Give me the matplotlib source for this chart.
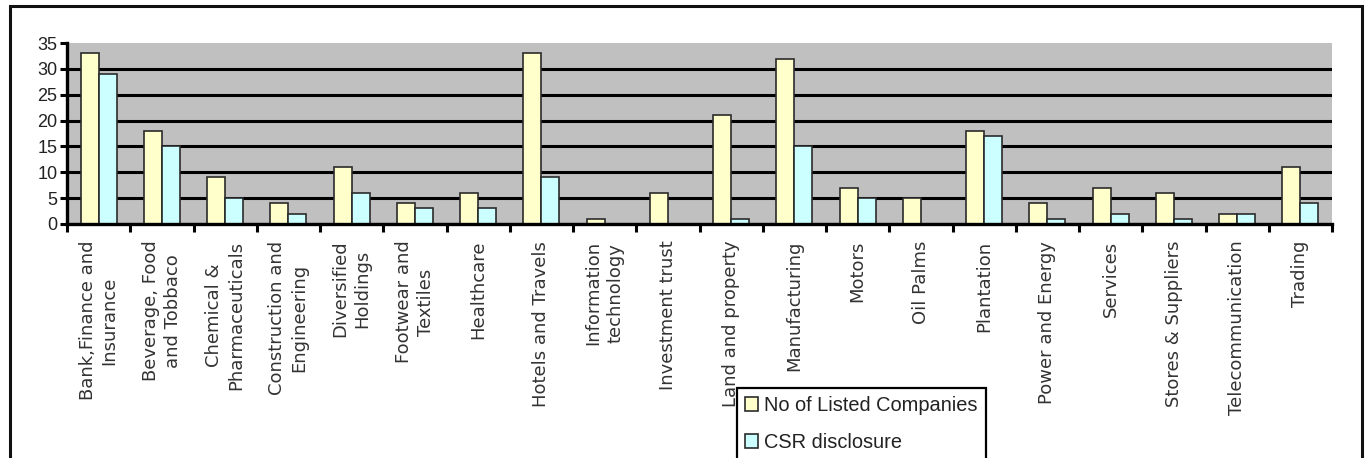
#!/usr/bin/env python3
"""
plot.py  - listed companies vs CSR disclosure by sector (Excel-style bar chart)
Output: out.png (1366 x 458)
"""

import numpy as np
import matplotlib
matplotlib.use("Agg")
import matplotlib.pyplot as plt
from matplotlib.patches import Rectangle

# ---------------------------------------------------------
# data
# ---------------------------------------------------------
SECTORS = [
    "Bank,Finance and\nInsurance", "Beverage, Food\nand Tobbaco",
    "Chemical &\nPharmaceuticals", "Construction and\nEngineering",
    "Diversified\nHoldings", "Footwear and\nTextiles", "Healthcare",
    "Hotels and Travels", "Information\ntechnology", "Investment trust",
    "Land and property", "Manufacturing", "Motors", "Oil Palms",
    "Plantation", "Power and Energy", "Services", "Stores & Suppliers",
    "Telecommunication", "Trading",
]
LISTED = [33, 18, 9, 4, 11, 4, 6, 33, 1, 6, 21, 32, 7, 5, 18, 4, 7, 6, 2, 11]
CSR    = [29, 15, 5, 2, 6, 3, 3, 9, 0, 0, 1, 15, 5, 0, 17, 1, 2, 1, 2, 4]
SERIES = ["No of Listed Companies", "CSR disclosure"]
Y_TICKS = [0, 5, 10, 15, 20, 25, 30, 35]

# ---------------------------------------------------------
# figure / axes geometry (pixels of the 1366x458 canvas)
# ---------------------------------------------------------
W, H = 1366, 458
fig = plt.figure(figsize=(W / 100, H / 100), dpi=100)
fig.patch.set_facecolor("white")

ax_l, ax_r, ax_t, ax_b = 67, 1332, 43, 224
ax = fig.add_axes([ax_l / W, 1 - ax_b / H, (ax_r - ax_l) / W, (ax_b - ax_t) / H])
ax.set_facecolor("#C0C0C0")
ax.set_axisbelow(True)

# outer chart border (bottom edge falls outside the canvas)
fig.add_artist(Rectangle((10 / W, -0.2), (1362 - 10) / W, 1.2 - 6 / H,
                         transform=fig.transFigure, fill=False,
                         edgecolor="#111111", linewidth=2.2))

# ---------------------------------------------------------
# bars
# ---------------------------------------------------------
x  = np.arange(len(SECTORS)) + 0.5
bw = 0.286
b1 = ax.bar(x - bw / 2, LISTED, width=bw, color="#FFFFCC",
            edgecolor="#2b2b2b", linewidth=1.2, label=SERIES[0], zorder=3)
b2 = ax.bar(x + bw / 2, CSR, width=bw, color="#CCFFFF",
            edgecolor="#2b2b2b", linewidth=1.2, label=SERIES[1], zorder=3)

# ---------------------------------------------------------
# axes cosmetics
# ---------------------------------------------------------
ax.set_xlim(0, len(SECTORS))
ax.set_ylim(0, 35)
ax.set_yticks(Y_TICKS)
ax.set_yticklabels([str(v) for v in Y_TICKS], fontsize=13,
                   family="Liberation Sans", color="#222222")
ax.yaxis.grid(True, color="black", linewidth=2.2)
ax.xaxis.grid(False)
# no gridline at the top (35)
ax.get_ygridlines()[-1].set_visible(False)

ax.set_xticks(np.arange(len(SECTORS) + 1))
ax.set_xticklabels([])
ax.set_xticks(x, minor=True)
ax.set_xticklabels(SECTORS, minor=True, rotation=90, ha="center", va="top",
                   multialignment="center", fontsize=13, linespacing=1.3,
                   family="DejaVu Sans", color="#333333")
ax.tick_params(axis="x", which="major", direction="out", length=6,
               width=2.2, color="black")
ax.tick_params(axis="x", which="minor", length=0, pad=12)
ax.tick_params(axis="y", direction="out", length=5, width=2.2, pad=2)

for s in ("top", "right"):
    ax.spines[s].set_visible(False)
for s in ("left", "bottom"):
    ax.spines[s].set_linewidth(2.4)
    ax.spines[s].set_color("black")
    ax.spines[s].set_zorder(4)

# ---------------------------------------------------------
# legend (cut by bottom edge like the source)
# ---------------------------------------------------------
leg = fig.legend(handles=[b1, b2], labels=SERIES, loc="upper left",
                 bbox_to_anchor=(737 / W, 1 - 388 / H),
                 bbox_transform=fig.transFigure, borderaxespad=0,
                 prop={"family": "Liberation Sans", "size": 14.4},
                 handlelength=0.65, handleheight=0.65, handletextpad=0.3,
                 labelspacing=0.9, borderpad=0.4, fancybox=False,
                 framealpha=1, edgecolor="black")
leg.get_frame().set_linewidth(1.6)
for t in leg.get_texts():
    t.set_color("#222222")

fig.savefig("out.png", dpi=100)
